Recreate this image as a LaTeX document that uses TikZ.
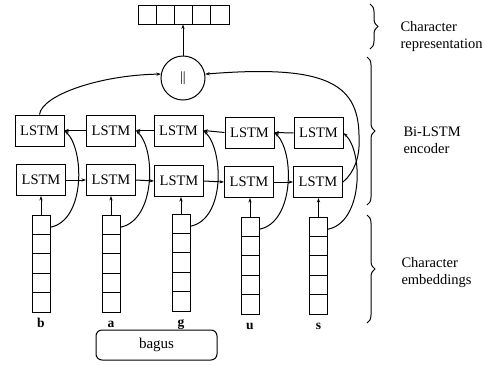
\documentclass[tikz,border=0pt]{standalone}
\usepackage{fontspec}
\setmainfont{Liberation Serif}
\usetikzlibrary{arrows.meta,decorations.pathreplacing}
\begin{document}
\begin{tikzpicture}[x=1pt,y=-1pt,line width=1pt,
  lstm/.style={draw,minimum width=49pt,minimum height=31pt,inner sep=0pt,font=\fontsize{14.5}{16}\selectfont},
  cell/.style={draw,minimum width=18pt,minimum height=19.4pt,inner sep=0pt},
  vcell/.style={draw,minimum width=18.2pt,minimum height=19pt,inner sep=0pt},
  arr/.style={-{Stealth[length=4.5pt,width=3.2pt]}},
  lab/.style={anchor=base west,align=left,inner sep=0pt,font=\fontsize{14.5}{16.5}\selectfont},
  letter/.style={anchor=base,inner sep=0pt,font=\fontsize{13.5}{15}\selectfont\bfseries},
  brc/.style={decorate,decoration={brace,amplitude=8pt}}]
\useasboundingbox (0,0) rectangle (485,365);

% top character representation vector
\foreach \i/\x in {1/147.1,2/165.3,3/183.5,4/201.7,5/219.9}
  \node[vcell] (v\i) at (\x,14.5) {};

% concatenation
\node[draw,circle,minimum size=44pt,inner sep=0pt,font=\fontsize{14}{16}\selectfont] (cat) at (183,78) {||};
\draw[arr] (cat.north) -- (cat.north |- v3.south);

% LSTM boxes
\foreach \i/\x/\y in {1/39.5/130.5,2/111/130.5,3/178.5/130.5,4/249.5/132.5,5/318.5/133}
  \node[lstm] (t\i) at (\x,\y) {LSTM};
\foreach \i/\x/\y in {1/41/180,2/111/180,3/179/181,4/249/182,5/318/182}
  \node[lstm] (b\i) at (\x,\y) {LSTM};

% row connections
\foreach \i/\j in {1/2,2/3,3/4,4/5} {
  \draw[arr] (b\i.east) -- (b\j.west);
  \draw[arr] (t\j.west) -- (t\i.east);
}

% embedding columns
\foreach \i/\x/\top/\ch in {1/41/215/b,2/111/215/a,3/181/214/g,4/250/217/u,5/318.5/217/s} {
  \foreach \k in {0,...,4}
    \node[cell] (e\i\k) at (\x,\top+9.7+19.4*\k) {};
  \node[letter] (c\i) at (\x,\top+112) {\ch};
  \draw[arr] (e\i0.north) -- (e\i0.north |- b\i.south);
  \draw[arr] ([yshift=-2.5pt]e\i0.east) .. controls +(35,-7) and +(20,19) .. (t\i.east);
}

% to concatenation
\draw[arr] (t1.north) .. controls (42,95) and (100,75) .. (cat.170);
\draw[arr] (b5.east) .. controls (355,172) and (360,155) .. (359,140)
  .. controls (360,85) and (330,64) .. (cat.10);

% input word
\node[draw,rounded corners=6pt,minimum width=121pt,minimum height=30pt,inner sep=0pt,
  font=\fontsize{15}{17}\selectfont] (w) at (156.5,345) {bagus};

% braces and labels
\draw[brc] (370,4) -- (370,49);
\draw[brc] (367,57) -- (367,205);
\draw[brc] (367,215) -- (367,323);
\node[lab] (l1) at (400,48) {Character\\representation};
\node[lab] (l2) at (403,153) {Bi-LSTM\\encoder};
\node[lab] (l3) at (401,284) {Character\\embeddings};
\end{tikzpicture}
\end{document}
